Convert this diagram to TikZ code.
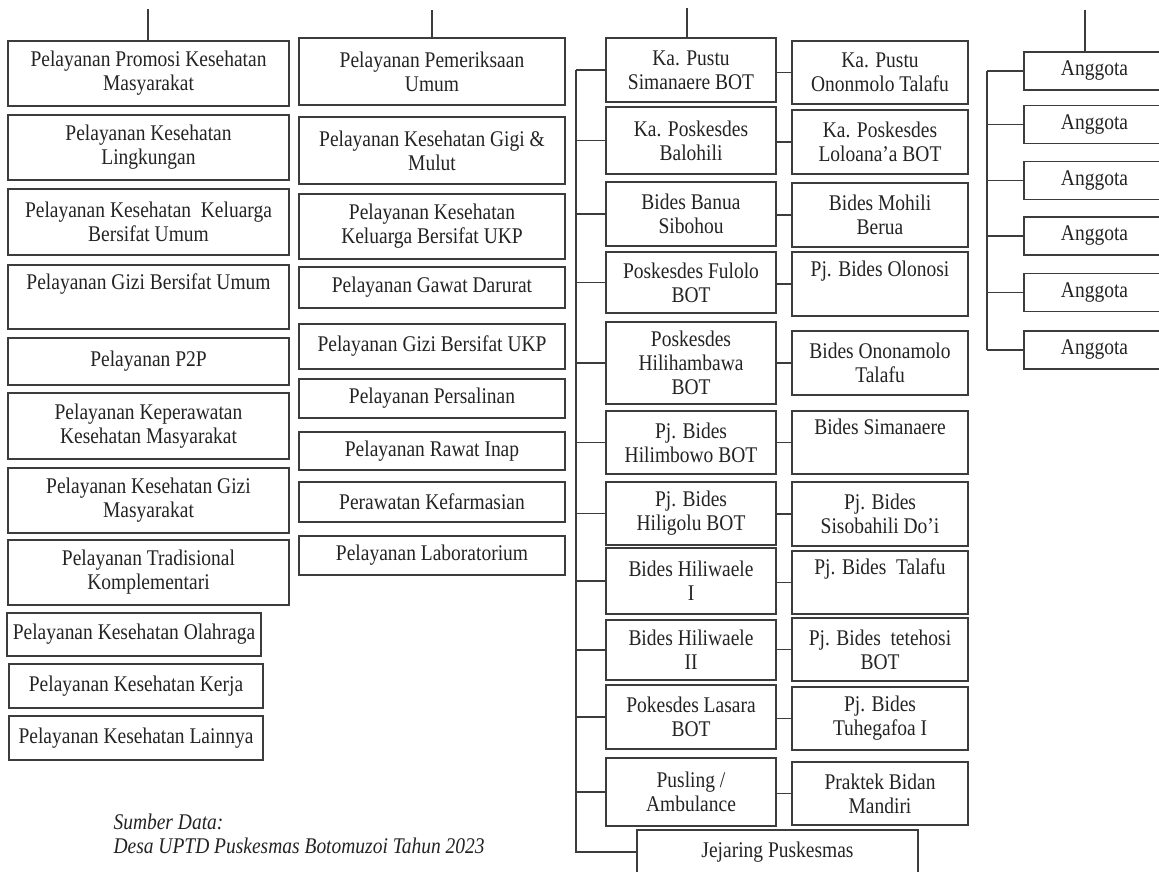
\documentclass[tikz,border=0pt]{standalone}
\usepackage{fontspec}
\setmainfont{Liberation Serif}[FakeStretch=0.87]
\usetikzlibrary{positioning,calc}
\definecolor{LineGray}{RGB}{60,60,60}
\definecolor{InkGray}{RGB}{35,35,35}
\newcommand{\boxfont}{\fontsize{22.4}{23.8}\selectfont}
\tikzset{
  unit/.style={draw=LineGray,line width=1.2pt,text=InkGray,align=center,
    inner sep=0pt,font=\boxfont},
  ukm/.style={unit,minimum width=281pt},
  ukp/.style={unit,minimum width=266pt},
  net/.style={unit,minimum width=170pt},
  sub/.style={unit,minimum width=176pt},
  mem/.style={unit,minimum width=141pt,minimum height=38pt},
  link/.style={draw=LineGray,line width=1.2pt},
}

\begin{document}
\begin{tikzpicture}[x=1pt,y=-1pt]
  \useasboundingbox (0,0) rectangle (1159,871);
  % UKM
  \node[ukm,minimum height=65pt] (pk1) at (148.5,73.5)
    {Pelayanan Promosi Kesehatan\\Masyarakat};
  \node[ukm,minimum height=65pt] (pk2) at (148.5,147.5)
    {Pelayanan Kesehatan\\Lingkungan};
  \node[ukm,minimum height=66pt] (pk3) at (148.5,222)
    {Pelayanan Kesehatan~ Keluarga\\Bersifat Umum};
  \node[ukm,minimum height=64pt] (pk4) at (148.5,297)
    {Pelayanan Gizi Bersifat Umum\\\strut};
  \node[ukm,minimum height=47pt] (pk5) at (148.5,361.5) {Pelayanan P2P};
  \node[ukm,minimum height=66pt] (pk6) at (148.5,426)
    {Pelayanan Keperawatan\\Kesehatan Masyarakat};
  \node[ukm,minimum height=65pt] (pk7) at (148.5,500.5)
    {Pelayanan Kesehatan Gizi\\Masyarakat};
  \node[ukm,minimum height=65pt] (pk8) at (148.5,572.5)
    {Pelayanan Tradisional\\Komplementari};
  \node[ukm,minimum width=254pt,minimum height=43pt] (pk9) at (134,634.5)
    {Pelayanan Kesehatan Olahraga};
  \node[ukm,minimum width=254pt,minimum height=44pt] (pk10) at (136,686)
    {Pelayanan Kesehatan Kerja};
  \node[ukm,minimum width=254pt,minimum height=44pt] (pk11) at (136,738)
    {Pelayanan Kesehatan Lainnya};
  % UKP
  \node[ukp,minimum height=67pt] (pp1) at (432,71.5)
    {Pelayanan Pemeriksaan\\Umum};
  \node[ukp,minimum height=67pt] (pp2) at (432,150.5)
    {Pelayanan Kesehatan Gigi \&\\Mulut};
  \node[ukp,minimum height=65pt] (pp3) at (432,226.5)
    {Pelayanan Kesehatan\\Keluarga Bersifat UKP};
  \node[ukp,minimum height=41pt] (pp4) at (432,287.5) {Pelayanan Gawat Darurat};
  \node[ukp,minimum height=45pt] (pp5) at (432,346.5) {Pelayanan Gizi Bersifat UKP};
  \node[ukp,minimum height=39pt] (pp6) at (432,398.5) {Pelayanan Persalinan};
  \node[ukp,minimum height=38pt] (pp7) at (432,451) {Pelayanan Rawat Inap};
  \node[ukp,minimum height=40pt] (pp8) at (432,502) {Perawatan Kefarmasian};
  \node[ukp,minimum height=39pt] (pp9) at (432,555.5) {Pelayanan Laboratorium};
  % jaringan
  \node[net,minimum height=64pt] (nl1) at (691,70) {Ka. Pustu\\Simanaere BOT};
  \node[net,minimum height=67pt] (nl2) at (691,140.5) {Ka. Poskesdes\\Balohili};
  \node[net,minimum height=64pt] (nl3) at (691,214) {Bides Banua\\Sibohou};
  \node[net,minimum height=61pt] (nl4) at (691,282.5) {Poskesdes Fulolo\\BOT};
  \node[net,minimum height=82pt] (nl5) at (691,363)
    {Poskesdes\\Hilihambawa\\BOT};
  \node[net,minimum height=63pt] (nl6) at (691,442.5) {Pj. Bides\\Hilimbowo BOT};
  \node[net,minimum height=63pt] (nl7) at (691,513.5) {Pj. Bides\\Hiligolu BOT};
  \node[net,minimum height=66pt] (nl8) at (691,581) {Bides Hiliwaele\\I};
  \node[net,minimum height=60pt] (nl9) at (691,650) {Bides Hiliwaele\\II};
  \node[net,minimum height=64pt] (nl10) at (691,717) {Pokesdes Lasara\\BOT};
  \node[net,minimum height=68pt] (nl11) at (691,792) {Pusling /\\Ambulance};
  \node[unit,minimum width=281pt,minimum height=44pt] (jej) at (777.5,852)
    {Jejaring Puskesmas};
  \node[sub,minimum height=63pt] (nr1) at (880,72.5) {Ka. Pustu\\Ononmolo Talafu};
  \node[sub,minimum height=64pt] (nr2) at (880,142) {Ka. Poskesdes\\Loloana’a BOT};
  \node[sub,minimum height=64pt] (nr3) at (880,215) {Bides Mohili\\Berua};
  \node[sub,minimum height=64pt] (nr4) at (880,284) {Pj. Bides Olonosi\\\strut};
  \node[sub,minimum height=64pt] (nr5) at (880,363) {Bides Ononamolo\\Talafu};
  \node[sub,minimum height=63pt] (nr6) at (880,442.5) {Bides Simanaere\\\strut};
  \node[sub,minimum height=64pt] (nr7) at (880,514) {Pj. Bides\\Sisobahili Do’i};
  \node[sub,minimum height=63pt] (nr8) at (880,582.5) {Pj. Bides~ Talafu\\\strut};
  \node[sub,minimum height=63pt] (nr9) at (880,649.5) {Pj. Bides~ tetehosi\\BOT};
  \node[sub,minimum height=63pt] (nr10) at (880,718.5) {Pj. Bides\\Tuhegafoa I};
  \node[sub,minimum height=63pt] (nr11) at (880,793.5) {Praktek Bidan\\Mandiri};
  % anggota
  \foreach \i/\y in {1/71,2/124.5,3/180.5,4/236,5/292.5,6/350}
    \node[mem] (ag\i) at (1094.5,\y) {Anggota};
  % garis
  \coordinate (top1) at (148,9);
  \coordinate (top2) at (432,10);
  \coordinate (top3) at (687,8);
  \coordinate (top4) at (1085,10);
  \draw[link] (top1) -- (top1 |- pk1.north);
  \draw[link] (top2) -- (top2 |- pp1.north);
  \draw[link] (top3) -- (top3 |- nl1.north);
  \draw[link] (top4) -- (top4 |- ag1.north);
  \coordinate (bus3) at (576,0);
  \draw[link] (bus3 |- nl1.west) -- (bus3 |- jej.west) -- (jej.west);
  \foreach \i in {1,...,11} {
    \draw[link] (bus3 |- nl\i.west) -- (nl\i.west);
    \draw[link] (nl\i.east |- nr\i.west) -- (nr\i.west);
  }
  \coordinate (bus4) at (987,0);
  \draw[link] (bus4 |- ag1.west) -- (bus4 |- ag6.west);
  \foreach \i in {1,...,6}
    \draw[link] (bus4 |- ag\i.west) -- (ag\i.west);
  \node[font=\boxfont\itshape,text=InkGray,align=left,anchor=base west]
    (src) at (110,853) {Sumber Data:\\Desa UPTD Puskesmas Botomuzoi Tahun 2023};
\end{tikzpicture}
\end{document}
